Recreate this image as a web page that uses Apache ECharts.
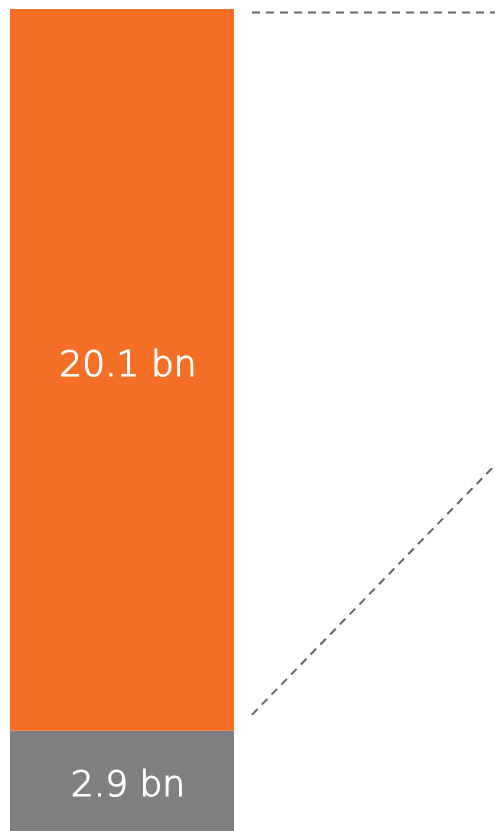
<!DOCTYPE html>
<html>
<head>
<meta charset="utf-8">
<script src="https://cdn.jsdelivr.net/npm/echarts@6/dist/echarts.min.js"></script>
<style>
  html, body { margin: 0; padding: 0; background: #fff; }
  #chart { width: 495px; height: 831px; }
</style>
</head>
<body>
<div id="chart"></div>
<script>
const categories = ['Total'];
const baseValues = [2.9];
const topValues = [20.1];
const labelsBase = ['2.9 bn'];
const labelsTop = ['20.1 bn'];
// dashed connector lines, in the same value units as the bar (x = position to the right of bar)
const connectorTop = [[242, 22.9], [485, 22.9]];
const connectorDiag = [[242, 3.35], [485, 10.3]];

const chart = echarts.init(document.getElementById('chart'));

const labelStyle = {
  show: true,
  position: 'inside',
  color: '#fff',
  fontFamily: 'DejaVu Sans',
  fontWeight: 200,
  fontSize: 36,
  textBorderColor: '#fff',
  textBorderWidth: 1.1
};

const option = {
  animation: false,
  grid: [
    { left: 10, top: 9, width: 224, height: 826, outerBoundsMode: 'none' },
    { left: 10, top: 9, right: 0, height: 826, outerBoundsMode: 'none' }
  ],
  xAxis: [
    { type: 'category', data: categories, gridIndex: 0, show: false },
    { type: 'value', gridIndex: 1, min: 0, max: 485, show: false }
  ],
  yAxis: [
    { type: 'value', gridIndex: 0, min: 0, max: 23, show: false },
    { type: 'value', gridIndex: 1, min: 0, max: 23, show: false }
  ],
  series: [
    {
      type: 'bar',
      stack: 'total',
      barWidth: '100%',
      data: baseValues,
      itemStyle: { color: '#808080' },
      label: Object.assign({}, labelStyle, {
        offset: [6, 4],
        formatter: (p) => labelsBase[p.dataIndex]
      })
    },
    {
      type: 'bar',
      stack: 'total',
      barWidth: '100%',
      data: topValues,
      itemStyle: { color: '#F57026' },
      label: Object.assign({}, labelStyle, {
        offset: [6, -3],
        formatter: (p) => labelsTop[p.dataIndex]
      })
    },
    {
      type: 'line',
      xAxisIndex: 1,
      yAxisIndex: 1,
      data: connectorTop,
      symbol: 'none',
      lineStyle: { color: '#666', width: 2, type: [8, 6] }
    },
    {
      type: 'line',
      xAxisIndex: 1,
      yAxisIndex: 1,
      data: connectorDiag,
      symbol: 'none',
      lineStyle: { color: '#666', width: 2, type: [8, 6] }
    }
  ]
};

chart.setOption(option);
</script>
</body>
</html>
